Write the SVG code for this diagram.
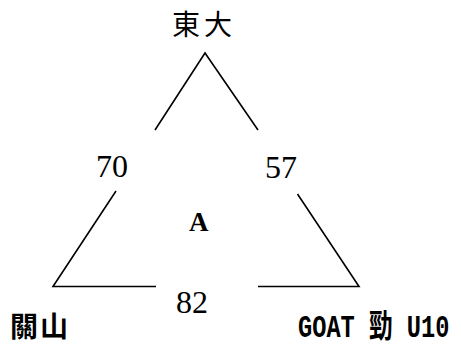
<svg xmlns="http://www.w3.org/2000/svg" width="461" height="347" viewBox="0 0 461 347">
<style>
.e{stroke:#000;stroke-width:1.6;fill:none;stroke-linecap:butt}
.num{font-family:"Liberation Serif",serif;font-size:32px;fill:#000}
.cjk{font-family:"Noto Sans CJK TC","Noto Sans CJK SC",serif;fill:#000}
</style>
<rect width="461" height="347" fill="#fff"/>
<g id="edges">
<polyline class="e" points="155,130 205,53 258,130"/>
<polyline class="e" points="116,191 53,286.5 156,286.5"/>
<polyline class="e" points="258,286.5 359,286.5 297.5,194"/>
</g>
<g id="top"><text class="cjk" x="172" y="35" font-size="28" letter-spacing="4">東大</text></g>
<g id="left"><text class="cjk" x="10" y="337" font-size="28" font-weight="bold" letter-spacing="2">關山</text></g>
<g id="right"><text transform="translate(298,337) scale(0.74,1)" x="0" y="0" font-family="'Liberation Mono','Noto Sans CJK TC',monospace" font-size="32" font-weight="bold">GOAT 勁 U10</text></g>
<g id="l70"><text class="num" x="96" y="177">70</text></g>
<g id="l57"><text class="num" x="265" y="178">57</text></g>
<g id="l82"><text class="num" x="176" y="313">82</text></g>
<g id="lA"><text x="189" y="231" font-family="'Liberation Serif',serif" font-size="27" font-weight="bold">A</text></g>
</svg>
